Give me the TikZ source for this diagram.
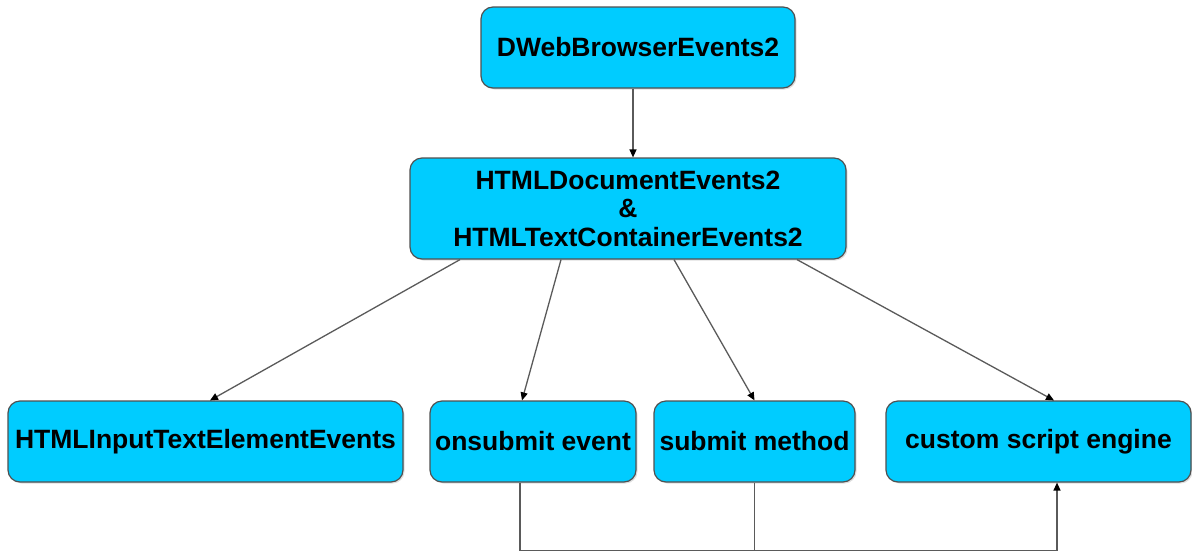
\documentclass[tikz,border=0pt]{standalone}
\usepackage{fontspec}
\setmainfont{Liberation Sans}
\usetikzlibrary{arrows.meta,shadows}
\definecolor{boxfill}{RGB}{0,204,255}
\definecolor{boxline}{RGB}{80,80,80}
\definecolor{wire}{RGB}{90,90,90}
\tikzset{
  evbox/.style={draw=boxline, line width=1.2pt, fill=boxfill, rounded corners=12pt,
    align=center, inner sep=0pt, font=\bfseries\fontsize{26.5}{28.5}\selectfont,
    drop shadow={shadow xshift=1.5pt, shadow yshift=-1.5pt, opacity=0.25}},
  conn/.style={draw=wire, line width=1.3pt, -{Triangle[length=8pt,width=7pt,color=black]}},
  wire/.style={draw=wire, line width=1.3pt}
}
\begin{document}
\begin{tikzpicture}[x=1pt,y=-1pt]
\useasboundingbox (0,0) rectangle (1192,552);
% event source hierarchy
\node[evbox, minimum width=314pt, minimum height=81pt] (top) at (638,47.5) {DWebBrowserEvents2};
\node[evbox, minimum width=436pt, minimum height=101pt] (mid) at (628,208.5)
  {HTMLDocumentEvents2\\\&\\HTMLTextContainerEvents2};
\node[evbox, minimum width=395pt, minimum height=81pt] (b1) at (205.5,441.5) {HTMLInputTextElementEvents};
\node[evbox, minimum width=206pt, minimum height=81pt] (b2) at (533,441.5) {onsubmit event};
\node[evbox, minimum width=201pt, minimum height=81pt] (b3) at (754.5,441.5) {submit method};
\node[evbox, minimum width=305pt, minimum height=81pt] (b4) at (1038.5,441.5) {custom script engine};
% connectors
\draw[conn] ([xshift=-5pt]top.south) -- ([xshift=5pt]mid.north);
\draw[conn] ([xshift=-168pt]mid.south) -- ([xshift=4.5pt]b1.north);
\draw[conn] ([xshift=-67pt]mid.south) -- ([xshift=-11pt]b2.north);
\draw[conn] ([xshift=46pt]mid.south) -- ([xshift=0pt]b3.north);
\draw[conn] ([xshift=169pt]mid.south) -- ([xshift=15.5pt]b4.north);
% routing from the submit nodes into the script engine
\coordinate (c1) at ([xshift=-13pt,yshift=-68pt]b2.south);
\coordinate (c2) at ([xshift=18.5pt,yshift=-68pt]b4.south);
\draw[conn] ([xshift=-13pt]b2.south) -- (c1) -- (c2) -- ([xshift=18.5pt]b4.south);
\draw[wire] (b3.south) -- (b3.south |- c1);
\end{tikzpicture}
\end{document}
